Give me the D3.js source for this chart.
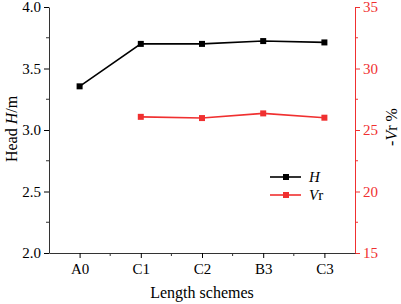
<!DOCTYPE html>
<html>
<head>
<meta charset="utf-8">
<script src="https://cdn.jsdelivr.net/npm/d3@7"></script>
<style>
  body { margin: 0; background: #fff; }
  text { font-family: "Liberation Serif", "DejaVu Serif", serif; }
</style>
</head>
<body>
<div id="chart"></div>
<script>
// Data
const schemes = ["A0", "C1", "C2", "B3", "C3"];
const headH = [3.355, 3.70, 3.70, 3.723, 3.712];
const vrSchemes = ["C1", "C2", "B3", "C3"];
const vrValues = [26.07, 25.97, 26.35, 26.0];
const leftTicks = [2.0, 2.5, 3.0, 3.5, 4.0];
const rightTicks = [15, 20, 25, 30, 35];

const W = 401, H = 304;
const margin = {top: 7, right: 46, bottom: 51, left: 49};
const width = W - margin.left - margin.right;
const height = H - margin.top - margin.bottom;
const red = "#f03030";

const svg = d3.select("#chart").append("svg")
  .attr("width", W).attr("height", H);
const g = svg.append("g").attr("transform", `translate(${margin.left},${margin.top})`);

const x = d3.scalePoint().domain(schemes).range([0, width]).padding(0.5);
const yL = d3.scaleLinear().domain([2, 4]).range([height, 0]);
const yR = d3.scaleLinear().domain([15, 35]).range([height, 0]);

// Minor ticks
const minorL = d3.range(2.25, 4, 0.5);
const minorR = d3.range(17.5, 35, 5);
const step = x.step();
const minorX = schemes.map(s => x(s) + step / 2).slice(0, -1);

// Left axis
const gl = g.append("g")
  .call(d3.axisLeft(yL).tickValues(leftTicks).tickFormat(d3.format(".1f")).tickSize(5).tickSizeOuter(0));
gl.selectAll("text").attr("font-size", 15).attr("fill", "#000").attr("x", -8);
gl.select(".domain").attr("stroke", "#333");
gl.selectAll(".minor").data(minorL).join("line").attr("class", "minor")
  .attr("x1", 0).attr("x2", -3).attr("y1", d => yL(d)).attr("y2", d => yL(d)).attr("stroke", "#333");

// Right axis
const gr = g.append("g").attr("transform", `translate(${width},0)`)
  .call(d3.axisRight(yR).tickValues(rightTicks).tickSize(5).tickSizeOuter(0));
gr.selectAll("text").attr("font-size", 15).attr("fill", red).attr("x", 8);
gr.selectAll("line").attr("stroke", red);
gr.select(".domain").attr("stroke", red);
gr.selectAll(".minor").data(minorR).join("line").attr("class", "minor")
  .attr("x1", 0).attr("x2", 3).attr("y1", d => yR(d)).attr("y2", d => yR(d)).attr("stroke", red);

// Bottom axis
const gb = g.append("g").attr("transform", `translate(0,${height})`)
  .call(d3.axisBottom(x).tickSize(5).tickSizeOuter(0));
gb.selectAll("text").attr("font-size", 15).attr("fill", "#000").attr("dy", "0.85em");
gb.select(".domain").attr("stroke", "#333");
gb.selectAll(".minor").data(minorX).join("line").attr("class", "minor")
  .attr("x1", d => d).attr("x2", d => d).attr("y1", 0).attr("y2", 3).attr("stroke", "#333");

// Axis titles
svg.append("text")
  .attr("x", margin.left + width / 2).attr("y", 298)
  .attr("text-anchor", "middle").attr("font-size", 16)
  .text("Length  schemes");

const lt = svg.append("text")
  .attr("transform", `translate(17,129) rotate(-90)`)
  .attr("text-anchor", "middle").attr("font-size", 16);
lt.append("tspan").text("Head ");
lt.append("tspan").attr("font-style", "italic").text("H");
lt.append("tspan").text("/m");

const rt = svg.append("text")
  .attr("transform", `translate(397,127) rotate(-90)`)
  .attr("text-anchor", "middle").attr("font-size", 16);
rt.append("tspan").text("-");
rt.append("tspan").attr("font-style", "italic").text("V");
rt.append("tspan").text("r %");

// Series
const headData = schemes.map((s, i) => ({s, v: headH[i]}));
const vrData = vrSchemes.map((s, i) => ({s, v: vrValues[i]}));

g.append("path").datum(headData)
  .attr("fill", "none").attr("stroke", "#000").attr("stroke-width", 1.6)
  .attr("d", d3.line().x(d => x(d.s)).y(d => yL(d.v)));
g.selectAll(".ph").data(headData).join("rect").attr("class", "ph")
  .attr("x", d => x(d.s) - 3).attr("y", d => yL(d.v) - 3)
  .attr("width", 6).attr("height", 6).attr("fill", "#000");

g.append("path").datum(vrData)
  .attr("fill", "none").attr("stroke", red).attr("stroke-width", 1.6)
  .attr("d", d3.line().x(d => x(d.s)).y(d => yR(d.v)));
g.selectAll(".pv").data(vrData).join("rect").attr("class", "pv")
  .attr("x", d => x(d.s) - 3).attr("y", d => yR(d.v) - 3)
  .attr("width", 6).attr("height", 6).attr("fill", red);

// Legend
const legend = svg.append("g");
const items = [{c: "#000", y: 177}, {c: red, y: 195}];
items.forEach(it => {
  legend.append("line").attr("x1", 270).attr("x2", 301).attr("y1", it.y).attr("y2", it.y)
    .attr("stroke", it.c).attr("stroke-width", 1.6);
  legend.append("rect").attr("x", 283).attr("y", it.y - 3).attr("width", 6).attr("height", 6).attr("fill", it.c);
});
legend.append("text").attr("x", 309).attr("y", 182).attr("font-size", 15)
  .attr("font-style", "italic").text("H");
const lv = legend.append("text").attr("x", 309).attr("y", 200).attr("font-size", 15);
lv.append("tspan").attr("font-style", "italic").text("V");
lv.append("tspan").text("r");
</script>
</body>
</html>
